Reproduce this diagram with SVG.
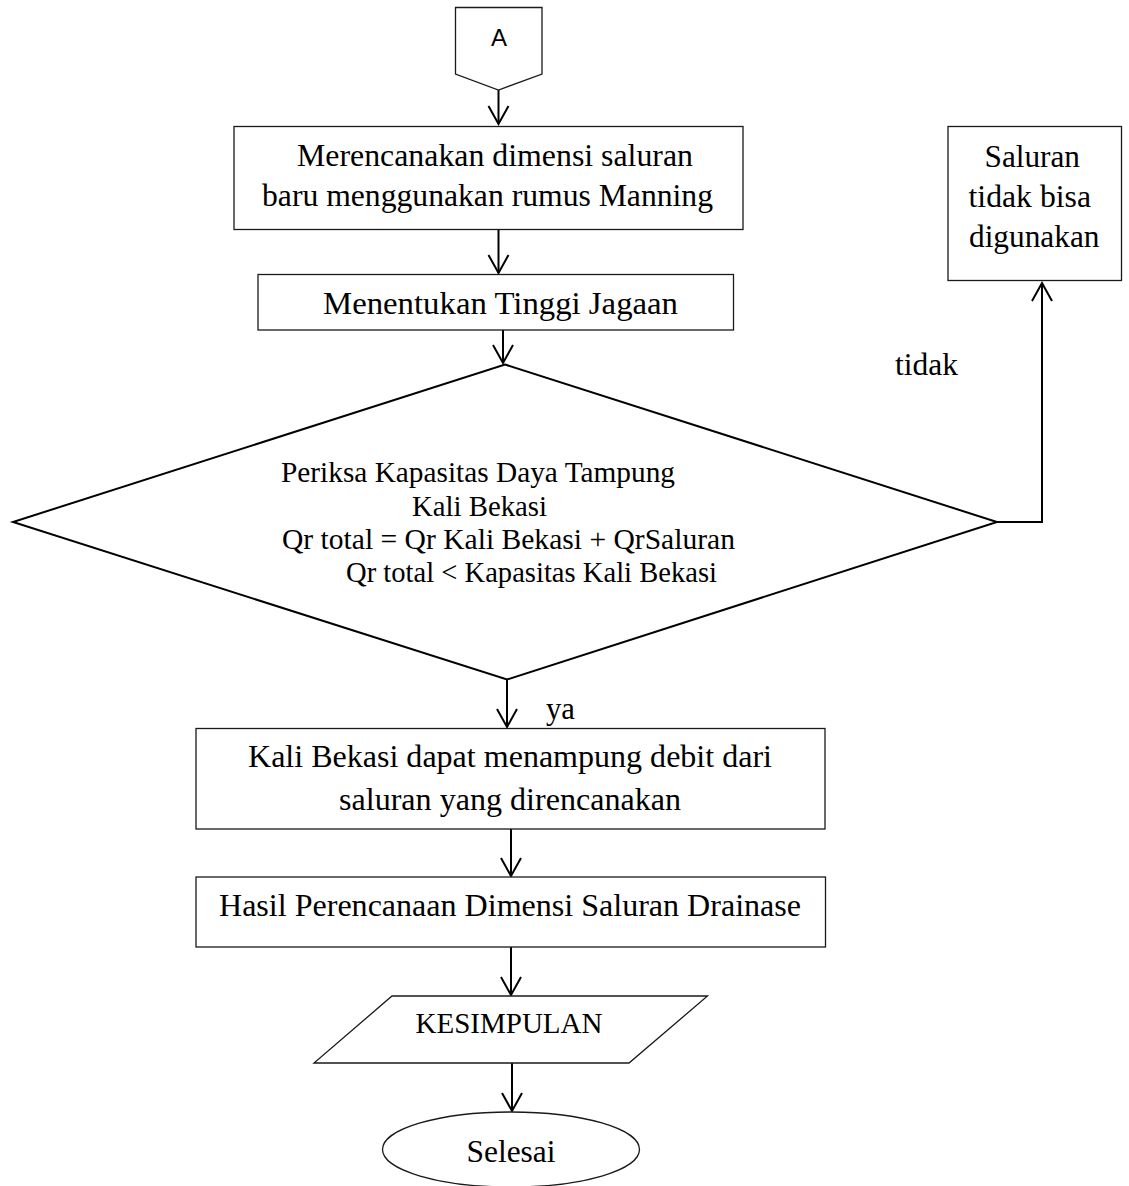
<svg xmlns="http://www.w3.org/2000/svg" width="1129" height="1186" viewBox="0 0 1129 1186">
<style>
.shape{fill:#fff;stroke:#1a1a1a;stroke-width:1.3}
.dia{fill:#fff;stroke:#000;stroke-width:2}
.t{font-family:"Liberation Serif","Times New Roman",serif;fill:#000}
.b{font-size:31px}
.d{font-size:29px}
.c{text-anchor:middle}
.conn{fill:none;stroke:#000;stroke-width:2}
</style>
<defs>
<marker id="arr" markerUnits="userSpaceOnUse" markerWidth="24" markerHeight="24" viewBox="-20 -12 22 24" refX="0" refY="0" orient="auto" overflow="visible">
<path d="M-18,-10 L0,0 L-18,10" fill="none" stroke="#000" stroke-width="2"/>
</marker>
</defs>
<rect width="1129" height="1186" fill="#fff"/>

<g id="connectors">
<line class="conn" x1="498.5" y1="90" x2="498.5" y2="124" marker-end="url(#arr)"/>
<line class="conn" x1="498.5" y1="229" x2="498.5" y2="273" marker-end="url(#arr)"/>
<line class="conn" x1="503" y1="330" x2="503" y2="363" marker-end="url(#arr)"/>
<polyline class="conn" points="997,522 1042,522 1042,283" marker-end="url(#arr)"/>
<line class="conn" x1="507" y1="680" x2="507" y2="727" marker-end="url(#arr)"/>
<line class="conn" x1="511" y1="829" x2="511" y2="876" marker-end="url(#arr)"/>
<line class="conn" x1="511" y1="947" x2="511" y2="995" marker-end="url(#arr)"/>
<line class="conn" x1="512" y1="1063" x2="512" y2="1111" marker-end="url(#arr)"/>
<text class="t b" x="895" y="375" textLength="63" lengthAdjust="spacingAndGlyphs">tidak</text>
<text class="t b" x="546" y="719" textLength="29" lengthAdjust="spacingAndGlyphs">ya</text>
</g>

<g id="connector-A">
<polygon class="shape" points="455.5,7.5 542,7.5 542,74 498.5,90 455.5,74" stroke-width="1"/>
<text x="499" y="45.5" font-family="Liberation Sans, Arial, sans-serif" font-size="24" text-anchor="middle">A</text>
</g>

<g id="box-manning">
<rect class="shape" x="234" y="126.5" width="509" height="103"/>
<text class="t b" x="297" y="166" textLength="396" lengthAdjust="spacingAndGlyphs">Merencanakan dimensi saluran</text>
<text class="t b" x="262" y="206" textLength="451" lengthAdjust="spacingAndGlyphs">baru menggunakan rumus Manning</text>
</g>

<g id="box-tinggi-jagaan">
<rect class="shape" x="258" y="274.5" width="475.5" height="55.5"/>
<text class="t b" x="323" y="314" textLength="355" lengthAdjust="spacingAndGlyphs">Menentukan Tinggi Jagaan</text>
</g>

<g id="decision">
<polygon class="dia" points="505,364.5 997,522 507,679.5 13,522"/>
<text class="t d" x="281" y="482" textLength="394" lengthAdjust="spacingAndGlyphs">Periksa Kapasitas Daya Tampung</text>
<text class="t d" x="412" y="516" textLength="135" lengthAdjust="spacingAndGlyphs">Kali Bekasi</text>
<text class="t d" x="282" y="549" textLength="453" lengthAdjust="spacingAndGlyphs">Qr total = Qr Kali Bekasi + QrSaluran</text>
<text class="t d" x="346" y="582" textLength="371" lengthAdjust="spacingAndGlyphs">Qr total &lt; Kapasitas Kali Bekasi</text>
</g>

<g id="box-tidak-bisa">
<rect class="shape" x="948" y="126.5" width="173.5" height="154"/>
<text class="t b" x="984.5" y="166.5" textLength="95.5" lengthAdjust="spacingAndGlyphs">Saluran</text>
<text class="t b" x="968.5" y="206.5" textLength="122.5" lengthAdjust="spacingAndGlyphs">tidak bisa</text>
<text class="t b" x="969" y="246.5" textLength="130.5" lengthAdjust="spacingAndGlyphs">digunakan</text>
</g>

<g id="box-kali-bekasi">
<rect class="shape" x="196" y="728.5" width="629" height="100.5"/>
<text class="t b" x="248" y="766.5" textLength="524" lengthAdjust="spacingAndGlyphs">Kali Bekasi dapat menampung debit dari</text>
<text class="t b" x="339" y="810" textLength="342" lengthAdjust="spacingAndGlyphs">saluran yang direncanakan</text>
</g>

<g id="box-hasil">
<rect class="shape" x="196" y="877" width="629.5" height="70"/>
<text class="t b" x="219" y="916" textLength="582" lengthAdjust="spacingAndGlyphs">Hasil Perencanaan Dimensi Saluran Drainase</text>
</g>

<g id="kesimpulan">
<polygon class="shape" points="392,996 707.5,996 629,1063 314,1063"/>
<text class="t d" x="415.5" y="1033" textLength="187" lengthAdjust="spacingAndGlyphs">KESIMPULAN</text>
</g>

<g id="selesai">
<ellipse class="shape" cx="511" cy="1149.5" rx="128.5" ry="37.5"/>
<text class="t b" x="466.5" y="1161.5" textLength="89" lengthAdjust="spacingAndGlyphs">Selesai</text>
</g>
</svg>
